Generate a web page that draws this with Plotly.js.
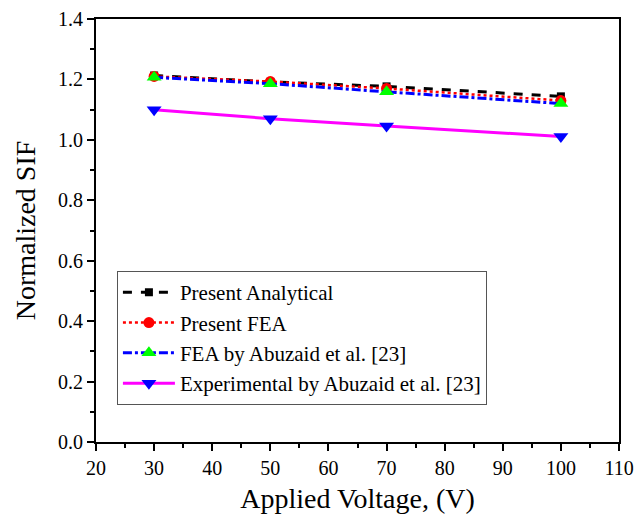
<!DOCTYPE html>
<html>
<head>
<meta charset="utf-8">
<script src="https://cdn.plot.ly/plotly-3.0.1.min.js"></script>
<style>html,body{margin:0;padding:0;background:#fff;}#chart{width:635px;height:520px;}</style>
</head>
<body>
<div id="chart"></div>
<script>
var voltage = [30, 50, 70, 100];
var presentAnalytical = [1.213, 1.192, 1.177, 1.144];
var presentFEA = [1.210, 1.193, 1.170, 1.130];
var feaAbuzaid = [1.207, 1.186, 1.159, 1.120];
var expAbuzaid = [1.100, 1.070, 1.046, 1.011];
var names = ["Present Analytical", "Present FEA", "FEA by Abuzaid et al. [23]", "Experimental by Abuzaid et al. [23]"];

var font = "Liberation Serif, Times New Roman, serif";
var traces = [
  {x: voltage, y: presentAnalytical, name: names[0], mode: "lines+markers",
   line: {color: "#000000", width: 3, dash: "dash"},
   marker: {symbol: "square", size: 8, color: "#000000"}},
  {x: voltage, y: presentFEA, name: names[1], mode: "lines+markers",
   line: {color: "#ff0000", width: 2.5, dash: "dot"},
   marker: {symbol: "circle", size: 11, color: "#ff0000"}},
  {x: voltage, y: feaAbuzaid, name: names[2], mode: "lines+markers",
   line: {color: "#0000ff", width: 3, dash: "dashdot"},
   marker: {symbol: "triangle-up", size: 13, color: "#00ff00"}},
  {x: voltage, y: expAbuzaid, name: names[3], mode: "lines+markers",
   line: {color: "#ff00ff", width: 3, dash: "solid"},
   marker: {symbol: "triangle-down", size: 13, color: "#0000ff"}}
];

var layout = {
  width: 635, height: 520,
  margin: {l: 96, r: 16, t: 19, b: 78},
  paper_bgcolor: "#fff", plot_bgcolor: "#fff",
  font: {family: font, size: 20, color: "#000"},
  showlegend: true,
  legend: {x: 0.04, y: 0.404, xanchor: "left", yanchor: "top",
    bgcolor: "#fff", bordercolor: "#555", borderwidth: 1,
    font: {family: font, size: 21, color: "#000"},
    itemwidth: 52, tracegroupgap: 0},
  xaxis: {range: [20, 110], dtick: 10, tick0: 20,
    showgrid: false, zeroline: false, showline: true, linecolor: "#000", linewidth: 2, mirror: true,
    ticks: "outside", ticklen: 7, tickwidth: 2, tickcolor: "#000",
    minor: {dtick: 5, ticks: "outside", ticklen: 4, tickwidth: 2, tickcolor: "#000", showgrid: false},
    tickfont: {family: font, size: 20},
    title: {text: "Applied Voltage, (V)", font: {family: font, size: 28}, standoff: 10}},
  yaxis: {range: [0, 1.4], dtick: 0.2, tick0: 0, tickformat: ".1f",
    showgrid: false, zeroline: false, showline: true, linecolor: "#000", linewidth: 2, mirror: true,
    ticks: "outside", ticklen: 7, tickwidth: 2, tickcolor: "#000",
    minor: {dtick: 0.1, ticks: "outside", ticklen: 4, tickwidth: 2, tickcolor: "#000", showgrid: false},
    tickfont: {family: font, size: 20},
    title: {text: "Normalized SIF", font: {family: font, size: 28}, standoff: 14}}
};

Plotly.newPlot("chart", traces, layout, {displayModeBar: false, staticPlot: true});
</script>
</body>
</html>
